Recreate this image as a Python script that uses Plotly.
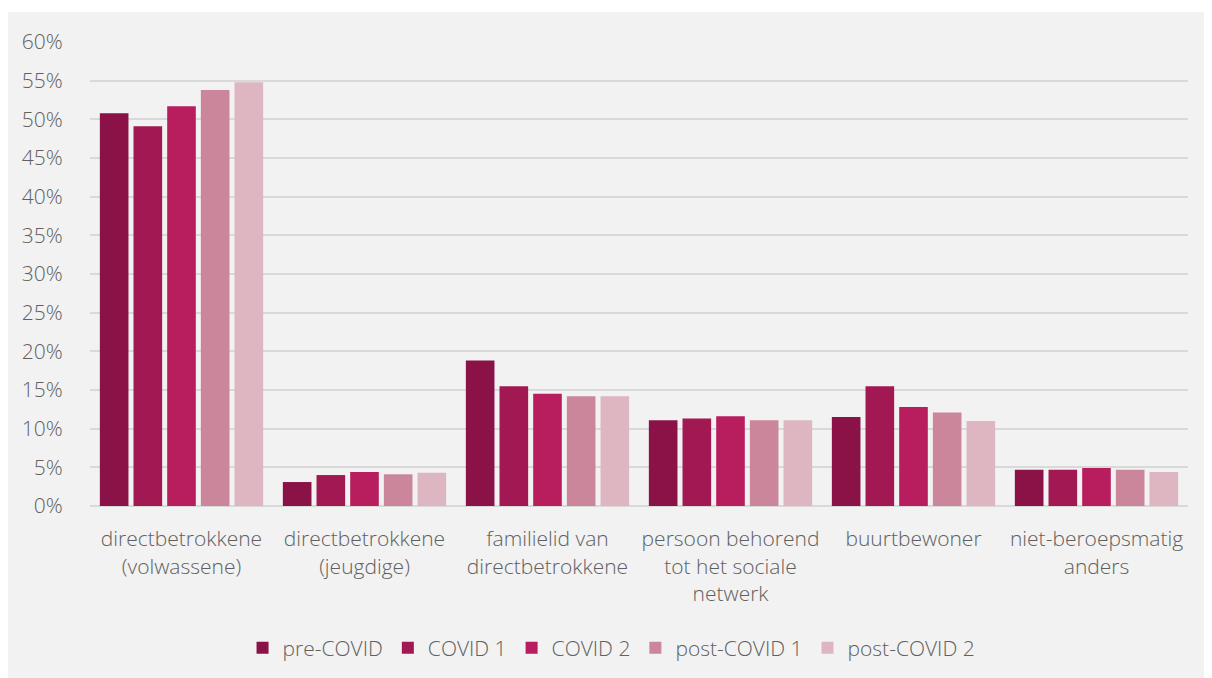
import plotly.graph_objects as go

categories = [
    "directbetrokkene<br>(volwassene)",
    "directbetrokkene<br>(jeugdige)",
    "familielid van<br>directbetrokkene",
    "persoon behorend<br>tot het sociale<br>netwerk",
    "buurtbewoner",
    "niet-beroepsmatig<br>anders",
]

series_names = ["pre-COVID", "COVID 1", "COVID 2", "post-COVID 1", "post-COVID 2"]

pre_covid = [0.508, 0.031, 0.188, 0.111, 0.115, 0.047]
covid_1 = [0.491, 0.040, 0.155, 0.113, 0.155, 0.047]
covid_2 = [0.517, 0.044, 0.145, 0.116, 0.128, 0.049]
post_covid_1 = [0.538, 0.041, 0.142, 0.111, 0.121, 0.047]
post_covid_2 = [0.548, 0.043, 0.142, 0.111, 0.110, 0.044]

colors = ["#8B1246", "#A21852", "#B81E5E", "#CB869B", "#DEB6C2"]

fig = go.Figure()
for name, vals, col in zip(series_names,
                           [pre_covid, covid_1, covid_2, post_covid_1, post_covid_2],
                           colors):
    fig.add_trace(go.Bar(x=categories, y=vals, name=name, marker_color=col,
                         marker_line_width=0))

# grey panel, white strip only at top and left
fig.add_shape(type="rect", xref="paper", yref="paper",
              x0=-0.0747, x1=1.05, y0=-0.40, y1=1.0647,
              fillcolor="#F2F2F2", line_width=0, layer="below")

# page body adds 8px offset, so the figure is 8px smaller with shifted margins
fig.update_layout(
    width=1204, height=670,
    margin=dict(l=82, r=24, t=34, b=172, autoexpand=False),
    paper_bgcolor="white",
    plot_bgcolor="rgba(0,0,0,0)",
    font=dict(family="Open Sans", size=21, color="#606060", weight=300),
    barmode="group",
    bargap=0.08,
    bargroupgap=0.15,
    showlegend=True,
    legend=dict(orientation="h", x=0.475, xanchor="center", y=-0.306, yanchor="middle",
                font=dict(size=21, color="#606060"), bgcolor="rgba(0,0,0,0)",
                itemwidth=30),
    xaxis=dict(showgrid=False, showline=False, ticks="outside", ticklen=14,
               tickcolor="rgba(0,0,0,0)", tickfont=dict(size=21), automargin=False),
    yaxis=dict(range=[0, 0.6], dtick=0.05, tickformat=".0%", showgrid=True,
               gridcolor="#D9D9D9", gridwidth=1.5, zeroline=True, zerolinecolor="#D9D9D9",
               zerolinewidth=1.5, showline=False, ticks="outside", ticklen=22,
               tickcolor="rgba(0,0,0,0)", tickfont=dict(size=21), automargin=False),
)

fig.write_html("out.html")
